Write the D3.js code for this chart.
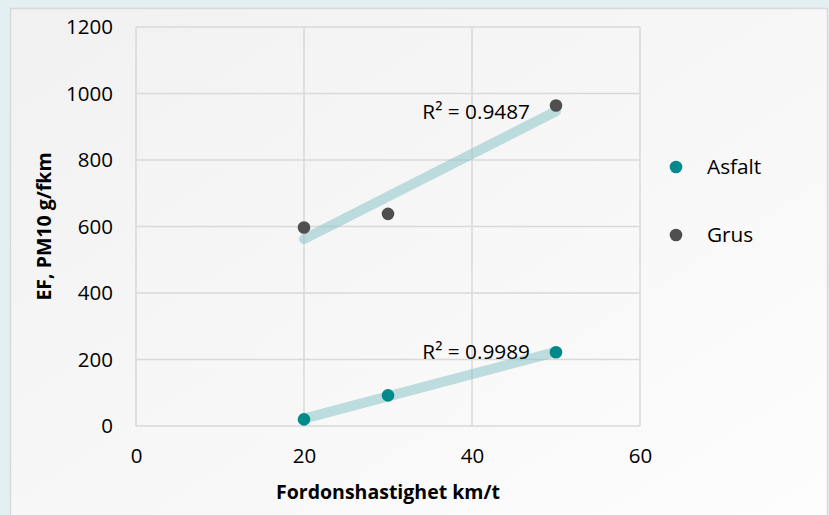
<!DOCTYPE html>
<html>
<head>
<meta charset="utf-8">
<script src="https://cdn.jsdelivr.net/npm/d3@7/dist/d3.min.js"></script>
<style>
	body { margin: 0; background: #e4eff1; }
	svg { display: block; font-family: "Open Sans", sans-serif; }
	.grid line { stroke: #d9d9d9; stroke-width: 1.5; }
	.tick-label { font-size: 20.5px; fill: #000; }
	.axis-title { font-size: 19.5px; font-weight: bold; fill: #000; }
</style>
</head>
<body>
<div id="chart"></div>
<script>
var speeds = [20, 30, 50];
var asfalt = [20, 92, 222];
var grus = [597, 638, 964];
var seriesNames = ['Asfalt', 'Grus'];
var rSquared = ['0.9989', '0.9487'];
var xTicks = [0, 20, 40, 60];
var yTicks = [0, 200, 400, 600, 800, 1000, 1200];

var colors = { Asfalt: '#00898b', Grus: '#4f4f4f' };

var options = {
	width: 829,
	height: 515,
	plot: { left: 136, right: 640, top: 27, bottom: 426 },
	dotRadius: 6.3,
	trendWidth: 10,
	fontSize: '20.8px'
};

var svg = d3.select('#chart').append('svg')
	.attr('width', options.width)
	.attr('height', options.height);

// Panel background
var grad = svg.append('defs').append('linearGradient')
	.attr('id', 'panelGrad')
	.attr('x1', '0').attr('y1', '0').attr('x2', '1').attr('y2', '1');
grad.append('stop').attr('offset', '0').attr('stop-color', '#f1f1f1');
grad.append('stop').attr('offset', '1').attr('stop-color', '#fdfdfd');

svg.append('rect')
	.attr('x', 10.5).attr('y', 8.5)
	.attr('width', 817).attr('height', 520)
	.attr('fill', 'url(#panelGrad)')
	.attr('stroke', '#d6dadb')
	.attr('stroke-width', 1.5);

var x = d3.scaleLinear().domain([0, 60]).range([options.plot.left, options.plot.right]);
var y = d3.scaleLinear().domain([0, 1200]).range([options.plot.bottom, options.plot.top]);

// Grid
var grid = svg.append('g').classed('grid', true);
grid.selectAll('line.h')
	.data(yTicks)
	.enter().append('line')
	.classed('h', true)
	.attr('x1', x(0)).attr('x2', x(60))
	.attr('y1', function(d) { return y(d); })
	.attr('y2', function(d) { return y(d); });
grid.selectAll('line.v')
	.data(xTicks)
	.enter().append('line')
	.classed('v', true)
	.attr('y1', y(0)).attr('y2', y(1200))
	.attr('x1', function(d) { return x(d); })
	.attr('x2', function(d) { return x(d); });

// Axes (labels only, lines are the grid)
var yAxis = svg.append('g')
	.attr('transform', 'translate(' + (x(0) - 23) + ',0)')
	.call(d3.axisLeft(y).tickValues(yTicks).tickFormat(d3.format('d')).tickSize(0).tickPadding(0));
var xAxis = svg.append('g')
	.attr('transform', 'translate(0,' + (y(0) + 22) + ')')
	.call(d3.axisBottom(x).tickValues(xTicks).tickFormat(d3.format('d')).tickSize(0).tickPadding(0));
[yAxis, xAxis].forEach(function(ax) {
	ax.attr('font-size', null).attr('font-family', null);
	ax.select('.domain').remove();
	ax.selectAll('text')
		.classed('tick-label', true)
		.attr('fill', '#000');
});

// Axis titles
svg.append('text')
	.classed('axis-title', true)
	.attr('text-anchor', 'middle')
	.attr('x', (x(0) + x(60)) / 2)
	.attr('y', 499)
	.text('Fordonshastighet km/t');
svg.append('text')
	.classed('axis-title', true)
	.attr('text-anchor', 'middle')
	.attr('transform', 'translate(51,' + ((y(0) + y(1200)) / 2) + ') rotate(-90)')
	.text('EF, PM10 g/fkm');

// Series data
var series = [
	{ name: 'Asfalt', values: asfalt, r2: rSquared[0] },
	{ name: 'Grus', values: grus, r2: rSquared[1] }
];

var linearFit = function(xs, ys) {
	var mx = d3.mean(xs), my = d3.mean(ys);
	var sxy = d3.sum(xs, function(v, i) { return (v - mx) * (ys[i] - my); });
	var sxx = d3.sum(xs, function(v) { return (v - mx) * (v - mx); });
	var slope = sxy / sxx;
	return function(v) { return my + slope * (v - mx); };
};

var xMin = d3.min(speeds), xMax = d3.max(speeds);

var group = svg.selectAll('g.series')
	.data(series)
	.enter().append('g')
	.classed('series', true);

// Trendlines
group.each(function(s) {
	s.fit = linearFit(speeds, s.values);
});
group.append('line')
	.attr('x1', x(xMin))
	.attr('x2', x(xMax))
	.attr('y1', function(s) { return y(s.fit(xMin)); })
	.attr('y2', function(s) { return y(s.fit(xMax)); })
	.attr('stroke', '#7fc0c4')
	.attr('stroke-opacity', 0.5)
	.attr('stroke-width', options.trendWidth)
	.attr('stroke-linecap', 'round');

// R² labels
group.append('text')
	.attr('text-anchor', 'end')
	.attr('x', x(xMax) - 26)
	.attr('y', function(s) { return y(s.fit(xMax)) + 7.5; })
	.attr('font-size', options.fontSize)
	.attr('fill', '#000')
	.text(function(s) { return 'R² = ' + s.r2; });

// Points
group.selectAll('circle')
	.data(function(s) {
		return s.values.map(function(v, i) { return { x: speeds[i], y: v, name: s.name }; });
	})
	.enter().append('circle')
	.attr('cx', function(d) { return x(d.x); })
	.attr('cy', function(d) { return y(d.y); })
	.attr('r', options.dotRadius)
	.attr('fill', function(d) { return colors[d.name]; });

// Legend
var legend = svg.selectAll('g.legend')
	.data(seriesNames)
	.enter().append('g')
	.classed('legend', true)
	.attr('transform', function(d, i) { return 'translate(676,' + (167 + i * 68) + ')'; });
legend.append('circle')
	.attr('r', options.dotRadius)
	.attr('fill', function(d) { return colors[d]; });
legend.append('text')
	.attr('x', 31)
	.attr('y', 7)
	.attr('font-size', options.fontSize)
	.attr('fill', '#000')
	.text(function(d) { return d; });
</script>
</body>
</html>
